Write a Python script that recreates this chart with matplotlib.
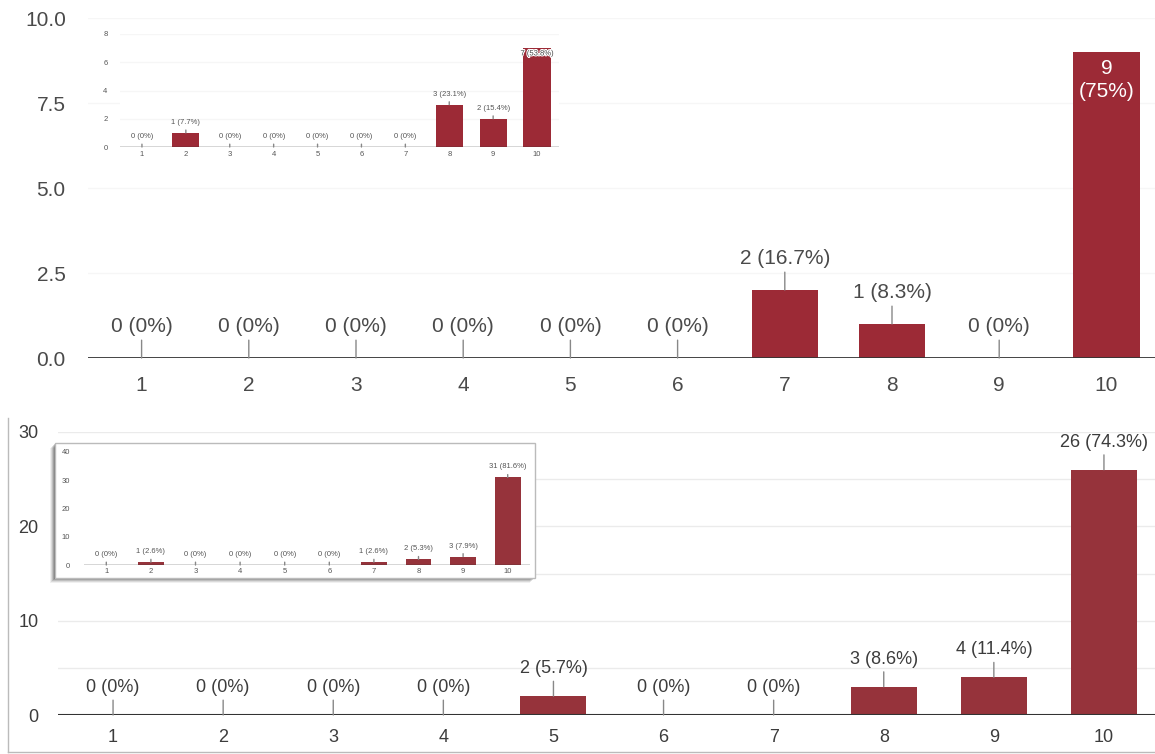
import matplotlib
matplotlib.use("Agg")
import matplotlib.pyplot as plt
import matplotlib.patheffects as pe
from matplotlib.patches import Rectangle
from matplotlib.lines import Line2D

plt.rcParams['font.family'] = ['Liberation Sans', 'DejaVu Sans']

W, H = 1155, 754

# ---------------- data ----------------
categories = ["1", "2", "3", "4", "5", "6", "7", "8", "9", "10"]

top_values = [0, 0, 0, 0, 0, 0, 2, 1, 0, 9]
top_labels = ["0 (0%)", "0 (0%)", "0 (0%)", "0 (0%)", "0 (0%)", "0 (0%)",
              "2 (16.7%)", "1 (8.3%)", "0 (0%)", "9\n(75%)"]
top_yticks = [0, 2.5, 5, 7.5, 10]
top_yticklabels = ["0.0", "2.5", "5.0", "7.5", "10.0"]

top_inset_values = [0, 1, 0, 0, 0, 0, 0, 3, 2, 7]
top_inset_labels = ["0 (0%)", "1 (7.7%)", "0 (0%)", "0 (0%)", "0 (0%)", "0 (0%)",
                    "0 (0%)", "3 (23.1%)", "2 (15.4%)", "7 (53.8%)"]
top_inset_yticks = [0, 2, 4, 6, 8]

bot_values = [0, 0, 0, 0, 2, 0, 0, 3, 4, 26]
bot_labels = ["0 (0%)", "0 (0%)", "0 (0%)", "0 (0%)", "2 (5.7%)", "0 (0%)",
              "0 (0%)", "3 (8.6%)", "4 (11.4%)", "26 (74.3%)"]
bot_yticks = [0, 10, 20, 30]

bot_inset_values = [0, 1, 0, 0, 0, 0, 1, 2, 3, 31]
bot_inset_labels = ["0 (0%)", "1 (2.6%)", "0 (0%)", "0 (0%)", "0 (0%)", "0 (0%)",
                    "1 (2.6%)", "2 (5.3%)", "3 (7.9%)", "31 (81.6%)"]
bot_inset_yticks = [0, 10, 20, 30, 40]


def px(l, t, r, b):
    return [l / W, (H - b) / H, (r - l) / W, (b - t) / H]


fig = plt.figure(figsize=(W / 100, H / 100), dpi=100)
fig.patch.set_facecolor("white")


def draw(ax, vals, labels, ylim, yticks, yticklabels, color, fs_tick, fs_lab,
         txtcolor, width, lead, ypad, xpad, grid_step_ticks, base_lw, inside_last=None,
         gridcolor="#eeeeee"):
    x = list(range(1, len(categories) + 1))
    ax.set_xlim(0.5, len(categories) + 0.5)
    ax.set_ylim(*ylim)
    for g in grid_step_ticks:
        ax.axhline(g, color=gridcolor, lw=1, zorder=0)
    ax.bar(x, vals, width=width, color=color, zorder=2)
    ax.axhline(0, color="#333333", lw=base_lw, zorder=3)
    for i, (xi, v, lab) in enumerate(zip(x, vals, labels)):
        if inside_last and i == len(vals) - 1:
            t = ax.text(xi, v - (ylim[1] - ylim[0]) * 0.02, lab, ha="center", va="top",
                        color=inside_last, fontsize=fs_lab, linespacing=1.25, zorder=5)
            if inside_last != "white":
                t.set_path_effects([pe.withStroke(linewidth=1.5, foreground="white")])
            continue
        ax.annotate(lab, xy=(xi, v), xytext=(0, lead), textcoords="offset pixels",
                    ha="center", va="bottom", fontsize=fs_lab, color=txtcolor,
                    arrowprops=dict(arrowstyle="-", color="#888888", lw=1,
                                    shrinkA=1, shrinkB=0), zorder=5)
    ax.set_xticks(x)
    ax.set_xticklabels(categories)
    ax.set_yticks(yticks)
    ax.set_yticklabels(yticklabels)
    ax.tick_params(axis="both", length=0, colors=txtcolor, labelsize=fs_tick)
    ax.tick_params(axis="y", pad=ypad)
    ax.tick_params(axis="x", pad=xpad)
    for s in ax.spines.values():
        s.set_visible(False)
    ax.set_facecolor("white")


# ---------------- top chart ----------------
ax1 = fig.add_axes(px(88, 18, 1160, 358))
draw(ax1, top_values, top_labels, (0, 10), top_yticks, top_yticklabels,
     "#9c2a36", 15, 15, "#4a4a4a", 0.62, 22, 16, 13, [2.5, 5, 7.5, 10], 2,
     inside_last="white", gridcolor="#f6f6f6")

ax1i = fig.add_axes(px(120, 34, 559, 147))
ax1i.set_zorder(10)
draw(ax1i, top_inset_values, top_inset_labels, (0, 8), top_inset_yticks,
     [str(t) for t in top_inset_yticks], "#9c2a36", 5.5, 5.5, "#555555", 0.62, 7,
     9, 3, [2, 4, 6, 8], 1, inside_last="#444444", gridcolor="#f6f6f6")

# ---------------- bottom chart ----------------
ax2 = fig.add_axes(px(58, 432, 1159, 715))
draw(ax2, bot_values, bot_labels, (0, 30), bot_yticks, [str(t) for t in bot_yticks],
     "#96333b", 13, 13, "#3c3c3c", 0.6, 19, 14, 10, [5, 10, 15, 20, 25, 30], 1.5,
     gridcolor="#ebebeb")

# inset frame with shadow
for k, a in zip([5, 4, 3, 2, 1], [0.06, 0.09, 0.12, 0.16, 0.2]):
    fig.patches.append(Rectangle(((55 - k) / W, (H - 578 - k) / H), 480 / W, 135 / H,
                                 transform=fig.transFigure, facecolor="#000000",
                                 alpha=a, edgecolor="none", zorder=8))
fig.patches.append(Rectangle((55 / W, (H - 578) / H), 480 / W, 135 / H,
                             transform=fig.transFigure, facecolor="white",
                             edgecolor="#bbbbbb", lw=1, zorder=9))

ax2i = fig.add_axes(px(84, 452, 530, 565))
ax2i.set_zorder(10)
draw(ax2i, bot_inset_values, bot_inset_labels, (0, 40), bot_inset_yticks,
     [str(t) for t in bot_inset_yticks], "#96333b", 5.5, 5.5, "#555555", 0.58, 7,
     10, 2, [], 1)

# outer border of bottom screenshot
fig.lines.append(Line2D([8 / W, 8 / W], [(H - 418) / H, (H - 752) / H],
                        transform=fig.transFigure, color="#bbbbbb", lw=1))
fig.lines.append(Line2D([8 / W, 1], [(H - 752) / H, (H - 752) / H],
                        transform=fig.transFigure, color="#bbbbbb", lw=1))

fig.savefig("out.png", dpi=100, facecolor="white")
